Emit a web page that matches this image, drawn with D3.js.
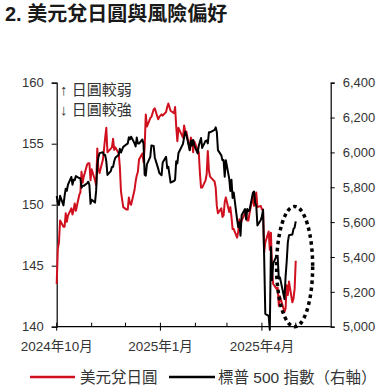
<!DOCTYPE html>
<html>
<head>
<meta charset="utf-8">
<script src="https://cdn.jsdelivr.net/npm/d3@7"></script>
<style>
  body { margin: 0; background: #fff; }
  svg text { font-family: "Liberation Sans", Arial, "Noto Sans CJK TC", sans-serif; }
</style>
</head>
<body>
<svg width="387" height="388"></svg>
<script>
// trading days, Oct 2024 - May 2025
var dates = [
  "2024-10-01","2024-10-02","2024-10-03","2024-10-04","2024-10-07","2024-10-08","2024-10-09","2024-10-10","2024-10-11",
  "2024-10-14","2024-10-15","2024-10-16","2024-10-17","2024-10-18","2024-10-21","2024-10-22","2024-10-23","2024-10-24",
  "2024-10-25","2024-10-28","2024-10-29","2024-10-30","2024-10-31","2024-11-01","2024-11-04","2024-11-05","2024-11-06",
  "2024-11-07","2024-11-08","2024-11-11","2024-11-12","2024-11-13","2024-11-14","2024-11-15","2024-11-18","2024-11-19",
  "2024-11-20","2024-11-21","2024-11-22","2024-11-25","2024-11-26","2024-11-27","2024-11-29","2024-12-02","2024-12-03",
  "2024-12-04","2024-12-05","2024-12-06","2024-12-09","2024-12-10","2024-12-11","2024-12-12","2024-12-13","2024-12-16",
  "2024-12-17","2024-12-18","2024-12-19","2024-12-20","2024-12-23","2024-12-24","2024-12-26","2024-12-27","2024-12-30",
  "2024-12-31","2025-01-02","2025-01-03","2025-01-06","2025-01-07","2025-01-08","2025-01-10","2025-01-13","2025-01-14",
  "2025-01-15","2025-01-16","2025-01-17","2025-01-21","2025-01-22","2025-01-23","2025-01-24","2025-01-27","2025-01-28",
  "2025-01-29","2025-01-30","2025-01-31","2025-02-03","2025-02-04","2025-02-05","2025-02-06","2025-02-07","2025-02-10",
  "2025-02-11","2025-02-12","2025-02-13","2025-02-14","2025-02-18","2025-02-19","2025-02-20","2025-02-21","2025-02-24",
  "2025-02-25","2025-02-26","2025-02-27","2025-02-28","2025-03-03","2025-03-04","2025-03-05","2025-03-06","2025-03-07",
  "2025-03-10","2025-03-11","2025-03-12","2025-03-13","2025-03-14","2025-03-17","2025-03-18","2025-03-19","2025-03-20",
  "2025-03-21","2025-03-24","2025-03-25","2025-03-26","2025-03-27","2025-03-28","2025-03-31","2025-04-01","2025-04-02",
  "2025-04-03","2025-04-04","2025-04-07","2025-04-08","2025-04-09","2025-04-10","2025-04-11","2025-04-14","2025-04-15",
  "2025-04-16","2025-04-17","2025-04-21","2025-04-22","2025-04-23","2025-04-24","2025-04-25","2025-04-28","2025-04-29",
  "2025-04-30","2025-05-01"
];

// USD/JPY (left axis)
var usdjpy = [
  143.5,146.4,146.9,148.7,148.2,148.2,149.3,148.6,149.1,
  149.7,149.2,149.6,150.1,149.5,150.8,151.0,152.7,151.8,
  152.3,153.3,153.4,153.4,152.0,152.9,152.0,151.6,154.6,
  152.9,152.6,153.7,154.6,155.5,156.3,154.3,154.6,154.7,
  155.4,154.5,154.7,154.2,153.1,151.1,149.8,149.6,149.6,
  150.6,150.1,150.0,151.2,151.9,152.4,152.7,153.7,154.2,
  153.5,154.7,157.4,156.4,157.1,157.2,157.8,157.9,157.0,
  157.2,157.4,157.3,157.6,158.0,158.3,157.7,157.5,158.0,
  156.4,155.2,156.3,155.5,156.5,156.0,156.0,154.5,155.5,
  155.2,154.3,155.2,154.5,154.3,152.6,151.4,151.4,152.0,
  152.5,154.4,152.8,152.3,151.9,151.4,149.9,149.3,149.7,
  149.0,149.1,150.2,150.6,149.4,149.8,149.0,148.0,148.0,
  147.3,147.8,148.8,148.4,148.7,149.3,149.3,148.7,148.7,
  149.3,150.7,149.9,150.6,151.0,149.8,149.9,149.6,149.6,
  146.1,146.9,147.8,146.3,147.7,144.5,143.5,143.1,143.2,
  141.7,142.5,141.2,141.5,143.4,142.6,143.7,142.0,142.3,
  143.1,145.4
];

// S&P 500 (right axis)
var spx = [
  5750,5709,5699,5751,5696,5751,5792,5780,5815,
  5859,5815,5843,5841,5864,5853,5851,5797,5809,
  5808,5823,5832,5813,5705,5729,5712,5782,5929,
  5973,5996,6001,5984,5985,5949,5871,5893,5917,
  5917,5949,5969,5987,6021,5999,6032,6047,6050,
  6087,6075,6090,6053,6034,6085,6051,6051,6074,
  6050,5872,5867,5931,5974,6040,6037,5971,5907,
  5882,5869,5942,5975,5909,5918,5827,5836,5843,
  5950,5937,5997,6049,6086,6119,6101,6012,6068,
  6039,6071,6041,5994,6038,6061,6083,6026,6066,
  6068,6052,6115,6115,6129,6144,6117,6013,5983,
  5955,5956,5861,5955,5850,5779,5843,5739,5770,
  5615,5572,5599,5522,5639,5675,5615,5676,5663,
  5668,5768,5776,5712,5693,5581,5612,5633,5671,
  5397,5074,5062,4982,5457,5268,5363,5406,5396,
  5276,5283,5158,5288,5376,5485,5525,5529,5561,
  5569,5604
];

var leftTicks = [140, 145, 150, 155, 160];
var rightTicks = [5000, 5200, 5400, 5600, 5800, 6000, 6200, 6400];
var monthTicks = ["2024-10-01","2024-11-01","2024-12-01","2025-01-01","2025-02-01","2025-03-01","2025-04-01","2025-05-01"];
var labelTicks = ["2024-10-01","2025-01-01","2025-04-01"];
var labelText = ["2024年10月","2025年1月","2025年4月"];

function main() {
  var parse = d3.timeParse("%Y-%m-%d");
  var fmtComma = d3.format(",");

  var svg = d3.select("svg");
  var plotL = 56.7, plotR = 330.7, plotT = 82.7, plotB = 326.7;

  var x = d3.scaleTime().domain([parse("2024-10-01"), parse("2025-06-01")]).range([plotL, plotR]);
  var yL = d3.scaleLinear().domain([140, 160]).range([plotB, plotT]);
  var yR = d3.scaleLinear().domain([5000, 6400]).range([plotB, plotT]);

  var rows = dates.map(function(d, i) { return {date: parse(d), jpy: usdjpy[i], spx: spx[i]}; });

  // title
  svg.append("text")
    .attr("x", 5).attr("y", 21)
    .attr("font-size", "20px").attr("font-weight", "bold")
    .attr("fill", "#1a1a1a")
    .text("2. 美元兌日圓與風險偏好");

  // left axis
  var gL = svg.append("g").attr("transform", "translate(" + plotL + ",0)")
    .call(d3.axisLeft(yL).tickValues(leftTicks).tickSize(5).tickPadding(8));
  // right axis
  var gR = svg.append("g").attr("transform", "translate(" + plotR + ",0)")
    .call(d3.axisRight(yR).tickValues(rightTicks).tickSize(4).tickFormat(fmtComma).tickPadding(8));

  [gL, gR].forEach(function(g) {
    g.select(".domain").attr("stroke", "#000").attr("stroke-width", 1.2);
    g.selectAll(".tick line").attr("stroke", "#000");
    g.selectAll(".tick text").attr("font-size", "13px").attr("fill", "#333")
      .attr("font-family", "'Liberation Sans', Arial, sans-serif");
  });

  // x axis: minor ticks inward, labelled ticks crossing
  var gX = svg.append("g").attr("transform", "translate(0," + plotB + ")");
  gX.append("line").attr("x1", plotL).attr("x2", plotR).attr("stroke", "#000").attr("stroke-width", 1.2);
  gX.selectAll(".mt").data(monthTicks).enter().append("line")
    .attr("x1", function(d) { return x(parse(d)); })
    .attr("x2", function(d) { return x(parse(d)); })
    .attr("y1", -4)
    .attr("y2", function(d) { return labelTicks.indexOf(d) >= 0 ? 4 : 0; })
    .attr("stroke", "#000");
  gX.selectAll(".lbl").data(labelTicks).enter().append("text")
    .attr("x", function(d) { return x(parse(d)); })
    .attr("y", 24)
    .attr("text-anchor", "middle")
    .attr("font-size", "13.5px").attr("fill", "#333")
    .text(function(d, i) { return labelText[i]; });

  // lines
  var lineJ = d3.line().x(function(d) { return x(d.date); }).y(function(d) { return yL(d.jpy); });
  var lineS = d3.line().x(function(d) { return x(d.date); }).y(function(d) { return yR(d.spx); });

  svg.append("path").datum(rows)
    .attr("d", lineJ).attr("fill", "none")
    .attr("stroke", "#d0101e").attr("stroke-width", 2).attr("stroke-linejoin", "round");
  svg.append("path").datum(rows)
    .attr("d", lineS).attr("fill", "none")
    .attr("stroke", "#000").attr("stroke-width", 2).attr("stroke-linejoin", "round");

  // annotation
  var note = svg.append("g").attr("fill", "#333").attr("font-size", "15px");
  note.append("text").attr("x", 60).attr("y", 95).text("↑ 日圓較弱");
  note.append("text").attr("x", 60).attr("y", 115).text("↓ 日圓較強");

  // dotted ellipse round the latest rebound
  var cx = x(parse("2025-04-30")), cy = yR(5345);
  svg.append("ellipse")
    .attr("cx", cx).attr("cy", cy)
    .attr("rx", x(parse("2025-05-16")) - cx)
    .attr("ry", yR(5345) - yR(5690))
    .attr("fill", "none").attr("stroke", "#000")
    .attr("stroke-width", 3.5).attr("stroke-dasharray", "3.5,3.5");

  // legend
  var lg = svg.append("g").attr("transform", "translate(0,377)");
  lg.append("line").attr("x1", 30).attr("x2", 75).attr("stroke", "#d0101e").attr("stroke-width", 2.5);
  lg.append("text").attr("x", 80).attr("y", 5.5).attr("font-size", "15.5px").attr("fill", "#333").text("美元兌日圓");
  lg.append("line").attr("x1", 169).attr("x2", 215).attr("stroke", "#000").attr("stroke-width", 2.5);
  lg.append("text").attr("x", 218).attr("y", 5.5).attr("font-size", "15.5px").attr("fill", "#333").text("標普 500 指數（右軸）");
}

main();
</script>
</body>
</html>
